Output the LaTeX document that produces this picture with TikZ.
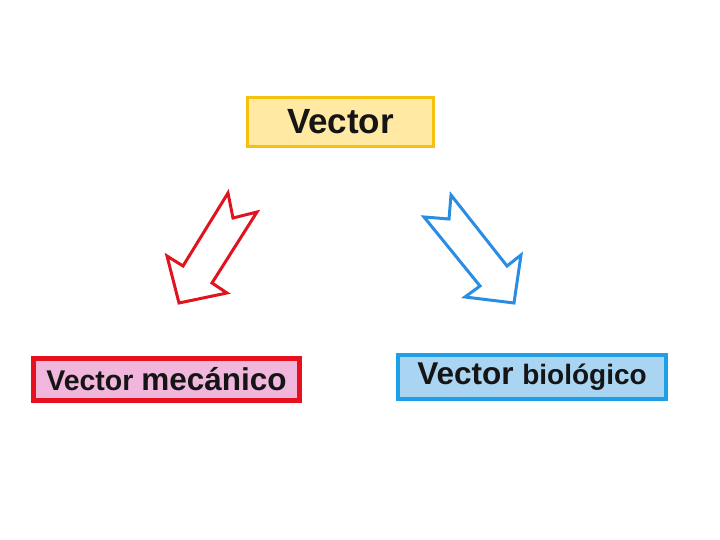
\documentclass[tikz,border=0pt]{standalone}
\usepackage{fontspec}
\setmainfont{Liberation Sans}
\definecolor{goldb}{HTML}{F5C10E}
\definecolor{goldf}{HTML}{FFE9A3}
\definecolor{redb}{HTML}{E8101E}
\definecolor{pinkf}{HTML}{F0B6DC}
\definecolor{blueb}{HTML}{1E9FE6}
\definecolor{bluef}{HTML}{AAD5F2}
\definecolor{redarrow}{HTML}{E0141E}
\definecolor{bluearrow}{HTML}{2A8CE2}
\definecolor{txt}{HTML}{151515}
\begin{document}
\begin{tikzpicture}[x=1pt,y=1pt,
  boxst/.style={rectangle,inner sep=0pt,text=txt,anchor=center,font=\bfseries},
  arrowst/.style={line width=3pt,line join=miter,fill=white}]
\useasboundingbox (0,0) rectangle (720,540);
% boxes
\node[boxst,draw=goldb,fill=goldf,line width=3pt,minimum width=186,minimum height=49] (top) at (340.5,418) {\fontsize{35}{40}\selectfont Vector};
\node[boxst,draw=redb,fill=pinkf,line width=5pt,minimum width=266,minimum height=42] (left) at (166.5,160.5) {\fontsize{28.5}{30}\selectfont Vector \fontsize{31.5}{32}\selectfont mecánico};
\node[boxst,draw=blueb,fill=bluef,line width=4pt,minimum width=268,minimum height=44] (right) at (532,163) {\fontsize{31.5}{34}\selectfont Vector \fontsize{28}{30}\selectfont biológico};
% red block arrow
\draw[arrowst,draw=redarrow] (228,347) -- (233,322) -- (257,328) -- (212,257) -- (227,247) -- (179,237) -- (167,284) -- (183,274) -- cycle;
% blue block arrow
\draw[arrowst,draw=bluearrow] (451,345) -- (449,321) -- (424,323) -- (480,254) -- (465,243) -- (514,237) -- (521,285) -- (507,274) -- cycle;
\end{tikzpicture}
\end{document}
